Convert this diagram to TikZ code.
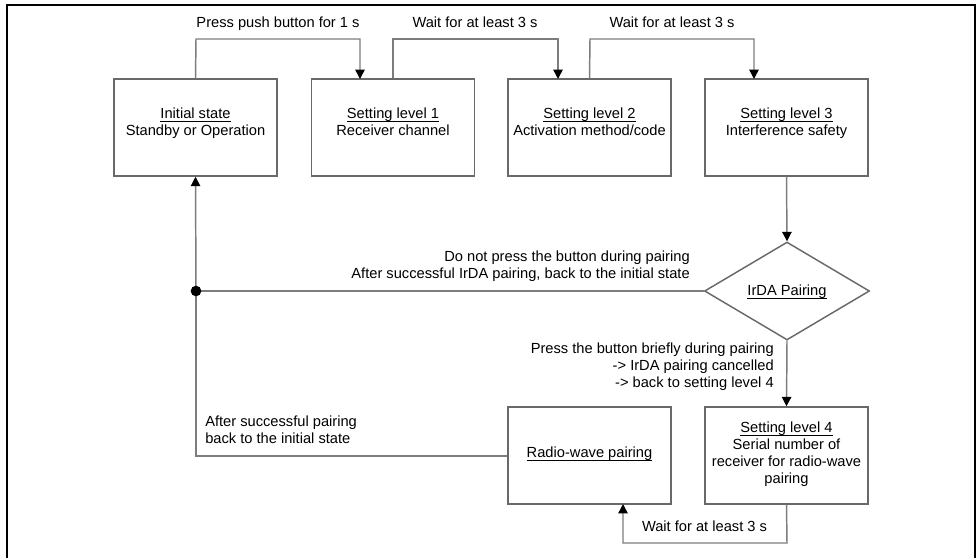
\documentclass[tikz,border=0pt]{standalone}
\usepackage{fontspec}
\setmainfont{Liberation Sans}
\usetikzlibrary{arrows.meta,shapes.geometric,calc}
\definecolor{linegray}{RGB}{125,125,125}
\definecolor{boxgray}{RGB}{105,105,105}
\newcommand\myul[1]{\setbox0\hbox{#1}\rlap{\rule[-2.5pt]{\wd0}{0.65pt}}\box0}
\tikzset{
  stateb/.style={draw=boxgray,line width=1.1pt,minimum width=122.25pt,minimum height=72.75pt,inner sep=0pt},
  txt/.style={inner sep=0pt,font=\fontsize{11}{12.75}\selectfont,align=center,
    execute at begin node=\strut,execute at end node=\strut},
  conn/.style={draw=linegray,line width=1.1pt},
  arr/.style={conn,-{Triangle[black,width=7pt,length=7pt]}},
}
\begin{document}
\begin{tikzpicture}[x=0.75pt,y=-0.75pt]
\useasboundingbox (0,0) rectangle (977,558);
% outer frame
\draw[line width=1.9pt,black] (7,558) -- (7,5) -- (975,5) -- (975,558);

% boxes
\node[stateb] (b0) at (195.5,127.5) {};
\node[stateb] (b1) at (393,127.5) {};
\node[stateb] (b2) at (589.5,127.5) {};
\node[stateb] (b3) at (786.5,127.5) {};
\node[stateb] (rw) at (589.5,455.5) {};
\node[stateb] (s4) at (786.5,455.5) {};
\node[draw=boxgray,line width=1.1pt,diamond,aspect=1.68,inner sep=0pt,minimum width=123.75pt,minimum height=73.5pt] (dm) at (787,291) {};

% box texts
\node[txt] (t0) at (195.5,124.5) {\myul{Initial state}\\Standby or Operation};
\node[txt] (t1) at (393,124.5) {\myul{Setting level 1}\\Receiver channel};
\node[txt] (t2) at (589.5,124.5) {\myul{Setting level 2}\\Activation method/code};
\node[txt] (t3) at (786.5,124.5) {\myul{Setting level 3}\\Interference safety};
\node[txt] (trw) at (589.5,454) {\myul{Radio-wave pairing}};
\node[txt] (t4) at (786.5,455) {\myul{Setting level 4}\\Serial number of\\receiver for radio-wave\\pairing};
\node[txt] (tdm) at (787,292) {\myul{IrDA Pairing}};

% coordinates
\coordinate (u0) at (196,39);
\coordinate (u0b) at (360,39);
\coordinate (e1) at (360,79);
\coordinate (u1) at (393,39);
\coordinate (u1b) at (558,39);
\coordinate (e2) at (558,79);
\coordinate (u2) at (590,39);
\coordinate (u2b) at (754,39);
\coordinate (e3) at (754,79);
\coordinate (j) at (196,291);
\coordinate (jl) at (196,456);
\coordinate (lb) at (787,543);
\coordinate (lbl) at (623,543);
\coordinate (erw) at (623,504);

% connectors
\draw[arr] (b0.north) -- (u0) -- (u0b) -- (e1);
\draw[arr] (b1.north) -- (u1) -- (u1b) -- (e2);
\draw[arr] (b2.north) -- (u2) -- (u2b) -- (e3);
\draw[arr] (b3.south) -- (dm.north);
\draw[conn] (dm.west) -- (j);
\draw[arr] (j) -- (b0.south);
\draw[conn] (j) -- (jl) -- (jl -| rw.west);
\draw[arr] (dm.south) -- (s4.north);
\draw[arr] (s4.south) -- (lb) -- (lbl) -- (erw);
\fill[black] (j) circle (4pt);

% labels
\node[txt] (l1) at (278,24) {Press push button for 1 s};
\node[txt] (l2) at (475,24) {Wait for at least 3 s};
\node[txt] (l3) at (672,24) {Wait for at least 3 s};
\node[txt,align=right,anchor=east] (l4) at (690,267.5) {Do not press the button during pairing\\After successful IrDA pairing, back to the initial state};
\node[txt,align=right,anchor=east] (l5) at (774,368) {Press the button briefly during pairing\\-> IrDA pairing cancelled\\-> back to setting level 4};
\node[txt,align=left,anchor=west] (l6) at (205,432.5) {After successful pairing\\back to the initial state};
\node[txt] (l7) at (704.5,528) {Wait for at least 3 s};
\end{tikzpicture}
\end{document}
